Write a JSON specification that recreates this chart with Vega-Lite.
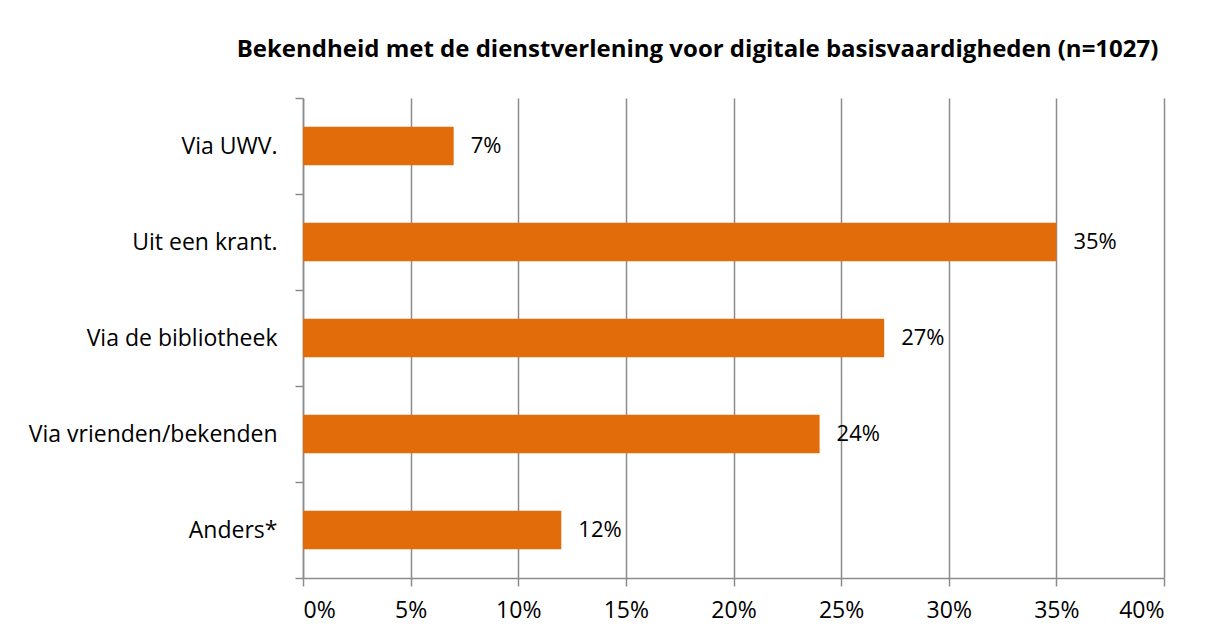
{
  "$schema": "https://vega.github.io/schema/vega-lite/v6.json",
  "width": 861,
  "height": 480,
  "autosize": {"type": "none"},
  "padding": {"left": 303, "top": 98, "right": 49, "bottom": 61},
  "background": "white",
  "title": {
    "text": "Bekendheid met de dienstverlening voor digitale basisvaardigheden (n=1027)",
    "font": "Open Sans",
    "fontSize": 24,
    "fontWeight": "bold",
    "color": "#000000",
    "anchor": "middle",
    "offset": 25,
    "dx": -36
  },
  "config": {
    "view": {"stroke": null},
    "axis": {"labelFont": "Open Sans", "labelFontSize": 23, "labelColor": "#000000", "labelLimit": 400}
  },
  "data": {
    "values": [
      {"bron": "Via UWV.", "pct": 0.07},
      {"bron": "Uit een krant.", "pct": 0.35},
      {"bron": "Via de bibliotheek", "pct": 0.27},
      {"bron": "Via vrienden/bekenden", "pct": 0.24},
      {"bron": "Anders*", "pct": 0.12}
    ]
  },
  "encoding": {
    "y": {
      "field": "bron",
      "type": "nominal",
      "sort": null,
      "title": null,
      "scale": {"paddingInner": 0, "paddingOuter": 0},
      "axis": {
        "tickBand": "extent",
        "domainColor": "#8c8c8c",
        "domainWidth": 1.5,
        "tickColor": "#8c8c8c",
        "tickWidth": 1.5,
        "tickSize": 8,
        "labelPadding": 18,
        "grid": false
      }
    },
    "x": {
      "field": "pct",
      "type": "quantitative",
      "title": null,
      "scale": {"domain": [0, 0.4], "nice": false},
      "axis": {
        "format": ".0%",
        "values": [0, 0.05, 0.1, 0.15, 0.2, 0.25, 0.3, 0.35, 0.4],
        "grid": true,
        "gridColor": "#8c8c8c",
        "gridWidth": 1.5,
        "domainColor": "#8c8c8c",
        "domainWidth": 1.5,
        "tickColor": "#8c8c8c",
        "tickWidth": 1.5,
        "tickSize": 8,
        "labelPadding": 13
      }
    }
  },
  "layer": [
    {"mark": {"type": "bar", "color": "#E36C0A", "height": {"band": 0.4}}},
    {
      "mark": {"type": "text", "align": "left", "baseline": "middle", "dx": 17, "font": "Open Sans", "fontSize": 22, "color": "#000000"},
      "encoding": {"text": {"field": "pct", "type": "quantitative", "format": ".0%"}}
    }
  ]
}
